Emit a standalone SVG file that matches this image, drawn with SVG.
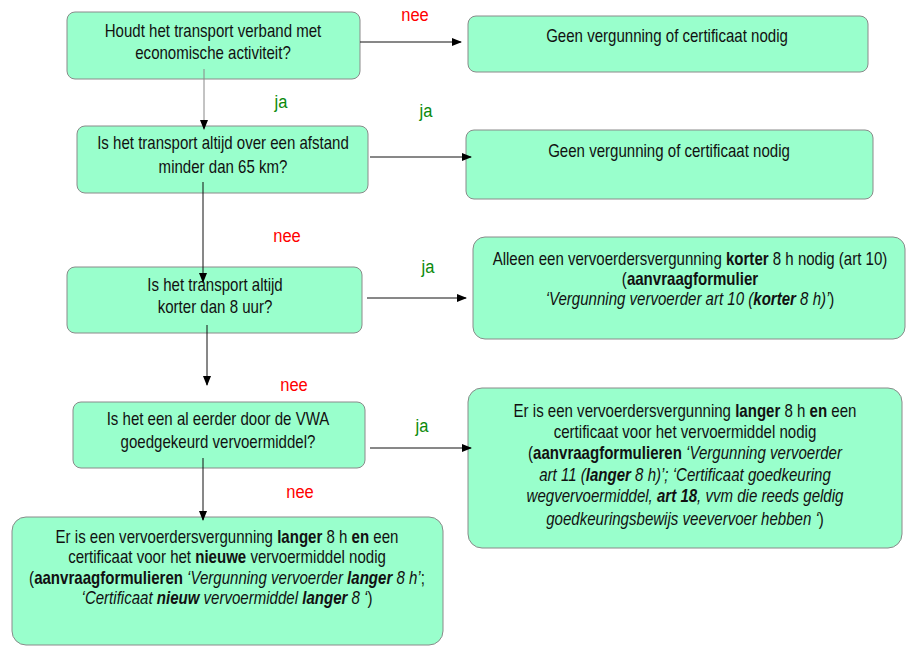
<svg xmlns="http://www.w3.org/2000/svg" width="909" height="646" viewBox="0 0 909 646">
<style>
.box{fill:#99ffcc;stroke:#8a8a8a;stroke-width:1}
.t{font-family:"Liberation Sans",Arial,sans-serif;font-size:17.5px;fill:#111;text-anchor:middle}
.b{font-weight:bold}
.i{font-style:italic}
.lbl{font-family:"Liberation Sans",Arial,sans-serif;font-size:19px}
.nee{fill:#ff0000}
.ja{fill:#0b8a0b}
.ln{stroke:#111;stroke-width:1;fill:none}
</style>
<defs>
<marker id="ah" markerWidth="10" markerHeight="8" refX="9" refY="4" orient="auto" markerUnits="userSpaceOnUse">
<path d="M0,0 L10,4 L0,8 Z" fill="#000"/>
</marker>
</defs>
<rect width="909" height="646" fill="#ffffff"/>

<g id="n1">
<rect class="box" x="67" y="12" width="293" height="67" rx="8"/>
<text class="t" transform="translate(213,0) scale(0.86,1)" x="0" y="37">Houdt het transport verband met</text>
<text class="t" transform="translate(213,0) scale(0.86,1)" x="0" y="59">economische activiteit?</text>
</g>

<g id="n2">
<rect class="box" x="468" y="16" width="400" height="56" rx="8"/>
<text class="t" transform="translate(667,0) scale(0.86,1)" x="0" y="42">Geen vergunning of certificaat nodig</text>
</g>

<g id="n3">
<rect class="box" x="77" y="126" width="291" height="67" rx="8"/>
<text class="t" transform="translate(223,0) scale(0.86,1)" x="0" y="149">Is het transport altijd over een afstand</text>
<text class="t" transform="translate(223,0) scale(0.86,1)" x="0" y="173">minder dan 65 km?</text>
</g>

<g id="n4">
<rect class="box" x="466" y="130" width="407" height="69" rx="8"/>
<text class="t" transform="translate(669,0) scale(0.86,1)" x="0" y="157">Geen vergunning of certificaat nodig</text>
</g>

<g id="n5">
<rect class="box" x="67" y="267" width="295" height="66" rx="8"/>
<text class="t" transform="translate(215,0) scale(0.86,1)" x="0" y="291">Is het transport altijd</text>
<text class="t" transform="translate(215,0) scale(0.86,1)" x="0" y="313">korter dan 8 uur?</text>
</g>

<g id="n6">
<rect class="box" x="473" y="237" width="432" height="102" rx="12"/>
<text class="t" transform="translate(690,0) scale(0.86,1)" x="0" y="265">Alleen een vervoerdersvergunning <tspan class="b">korter</tspan> 8 h nodig (art 10)</text>
<text class="t" transform="translate(690,0) scale(0.86,1)" x="0" y="285">(<tspan class="b">aanvraagformulier</tspan></text>
<text class="t" transform="translate(690,0) scale(0.86,1)" x="0" y="305"><tspan class="i">‘Vergunning vervoerder art 10 (</tspan><tspan class="b i">korter</tspan><tspan class="i"> 8 h)’</tspan>)</text>
</g>

<g id="n7">
<rect class="box" x="73" y="402" width="292" height="66" rx="8"/>
<text class="t" transform="translate(218,0) scale(0.86,1)" x="0" y="425">Is het een al eerder door de VWA</text>
<text class="t" transform="translate(218,0) scale(0.86,1)" x="0" y="448">goedgekeurd vervoermiddel?</text>
</g>

<g id="n8">
<rect class="box" x="468" y="388" width="434" height="160" rx="14"/>
<text class="t" transform="translate(685,0) scale(0.86,1)" x="0" y="417">Er is een vervoerdersvergunning <tspan class="b">langer</tspan> 8 h <tspan class="b">en</tspan> een</text>
<text class="t" transform="translate(685,0) scale(0.86,1)" x="0" y="438">certificaat voor het vervoermiddel nodig</text>
<text class="t" transform="translate(685,0) scale(0.86,1)" x="0" y="459">(<tspan class="b">aanvraagformulieren</tspan><tspan class="i"> ‘Vergunning vervoerder</tspan></text>
<text class="t" transform="translate(685,0) scale(0.86,1)" x="0" y="481"><tspan class="i">art 11 (</tspan><tspan class="b i">langer</tspan><tspan class="i"> 8 h)’; ‘Certificaat goedkeuring</tspan></text>
<text class="t" transform="translate(685,0) scale(0.86,1)" x="0" y="502"><tspan class="i">wegvervoermiddel, </tspan><tspan class="b i">art 18</tspan><tspan class="i">, vvm die reeds geldig</tspan></text>
<text class="t" transform="translate(685,0) scale(0.86,1)" x="0" y="525"><tspan class="i">goedkeuringsbewijs veevervoer hebben ‘</tspan>)</text>
</g>

<g id="n9">
<rect class="box" x="12" y="517" width="431" height="128" rx="14"/>
<text class="t" transform="translate(227,0) scale(0.86,1)" x="0" y="543">Er is een vervoerdersvergunning <tspan class="b">langer</tspan> 8 h <tspan class="b">en</tspan> een</text>
<text class="t" transform="translate(227,0) scale(0.86,1)" x="0" y="563">certificaat voor het <tspan class="b">nieuwe</tspan> vervoermiddel nodig</text>
<text class="t" transform="translate(227,0) scale(0.86,1)" x="0" y="584">(<tspan class="b">aanvraagformulieren</tspan><tspan class="i"> ‘Vergunning vervoerder </tspan><tspan class="b i">langer</tspan><tspan class="i"> 8 h’</tspan>;</text>
<text class="t" transform="translate(227,0) scale(0.86,1)" x="0" y="604"><tspan class="i">‘Certificaat </tspan><tspan class="b i">nieuw</tspan><tspan class="i"> vervoermiddel </tspan><tspan class="b i">langer</tspan><tspan class="i"> 8 ‘</tspan>)</text>
</g>

<g id="connectors">
<line class="ln" x1="360" y1="42" x2="461" y2="42" marker-end="url(#ah)"/>
<line class="ln" x1="204" y1="69" x2="204" y2="129" marker-end="url(#ah)" style="stroke:#888"/>
<line class="ln" x1="370" y1="157" x2="471" y2="157" marker-end="url(#ah)"/>
<line class="ln" x1="203" y1="182" x2="203" y2="282" marker-end="url(#ah)"/>
<line class="ln" x1="367" y1="298" x2="466" y2="298" marker-end="url(#ah)"/>
<line class="ln" x1="207" y1="325" x2="207" y2="385" marker-end="url(#ah)"/>
<line class="ln" x1="370" y1="448" x2="471" y2="448" marker-end="url(#ah)"/>
<line class="ln" x1="203" y1="458" x2="203" y2="520" marker-end="url(#ah)"/>
</g>

<g id="labels">
<text class="lbl nee" transform="translate(415,0) scale(0.87,1)" x="0" y="21" text-anchor="middle">nee</text>
<text class="lbl ja" transform="translate(281,0) scale(0.87,1)" x="0" y="108" text-anchor="middle">ja</text>
<text class="lbl ja" transform="translate(426,0) scale(0.87,1)" x="0" y="117" text-anchor="middle">ja</text>
<text class="lbl nee" transform="translate(287,0) scale(0.87,1)" x="0" y="242" text-anchor="middle">nee</text>
<text class="lbl ja" transform="translate(428,0) scale(0.87,1)" x="0" y="273" text-anchor="middle">ja</text>
<text class="lbl nee" transform="translate(294,0) scale(0.87,1)" x="0" y="391" text-anchor="middle">nee</text>
<text class="lbl ja" transform="translate(422,0) scale(0.87,1)" x="0" y="432" text-anchor="middle">ja</text>
<text class="lbl nee" transform="translate(300,0) scale(0.87,1)" x="0" y="498" text-anchor="middle">nee</text>
</g>
</svg>
